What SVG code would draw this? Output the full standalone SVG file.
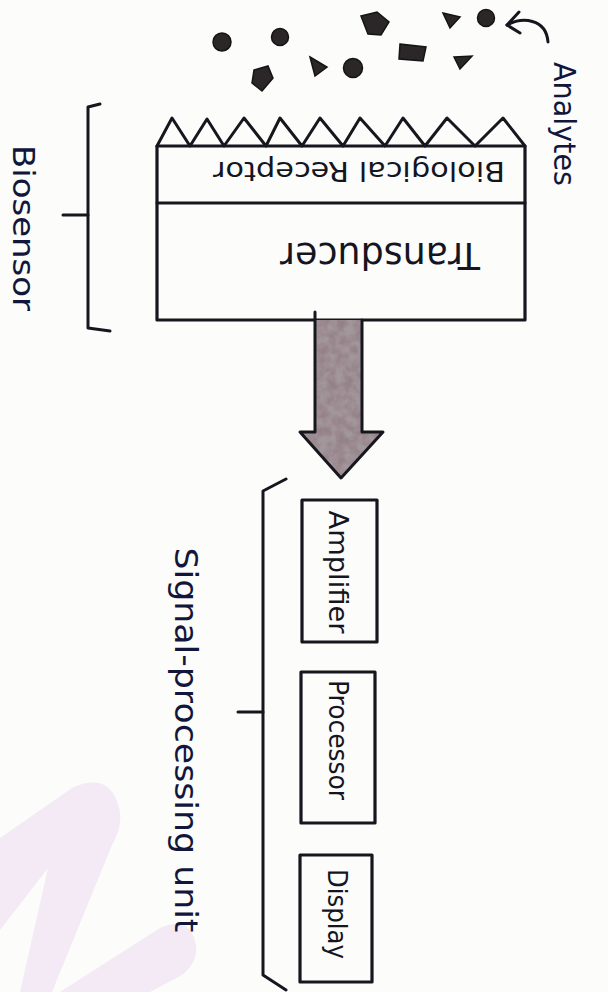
<svg xmlns="http://www.w3.org/2000/svg" width="608" height="992" viewBox="0 0 608 992">
  <defs>
    <style>
      .ink { fill: none; stroke: #16161e; stroke-width: 3; stroke-linecap: round; stroke-linejoin: round; }
      .box { fill: none; stroke: #16161e; stroke-width: 3.2; stroke-linejoin: round; }
      .dot { fill: #2b2627; stroke: #141414; stroke-width: 1.5; }
      .hand { font-family: "DejaVu Sans", "Liberation Sans", sans-serif; fill: #15151f; text-anchor: middle; }
      .blue { fill: #12163a; }
    </style>
    <filter id="grain" x="0" y="0" width="100%" height="100%">
      <feTurbulence type="fractalNoise" baseFrequency="0.11" numOctaves="3" seed="4" result="n"/>
      <feColorMatrix in="n" type="matrix" values="0 0 0 0 0.30  0 0 0 0 0.22  0 0 0 0 0.25  0 0 0 -2.2 1.55" result="tint"/>
      <feComposite in="tint" in2="SourceGraphic" operator="in"/>
    </filter>
    <clipPath id="arrowClip">
      <path d="M315,320 L362,320 L362,432 L383,432 L341,478 L300,432 L315,432 Z"/>
    </clipPath>
  </defs>

  <!-- paper -->
  <rect width="608" height="992" fill="#fcfcfa"/>

  <!-- faint lavender marker strokes, lower left -->
  <g fill="#f3eaf5">
    <path d="M-10,845 L72,788 Q112,770 120,812 Q122,828 112,845 L52,992 L-10,992 Z"/>
    <path d="M0,930 L48,868 L20,992 L0,992 Z" fill="#fcfcfa"/>
    <path d="M60,992 L160,928 Q190,915 196,945 Q198,962 182,975 L150,992 Z"/>
  </g>

  <!-- analytes -->
  <g id="analytes">
    <circle class="dot" cx="222" cy="42" r="9"/>
    <circle class="dot" cx="280" cy="37" r="8.5"/>
    <path class="dot" d="M254,70 L268,66 L273,78 L262,91 L252,83 Z"/>
    <path class="dot" d="M310,57 L327,67 L315,76 Z"/>
    <circle class="dot" cx="353" cy="68" r="9.5"/>
    <path class="dot" d="M361,16 L377,12 L389,22 L381,35 L368,34 Z"/>
    <path class="dot" d="M400,44 L426,47 L423,61 L399,59 Z"/>
    <path class="dot" d="M443,13 L460,17 L450,28 Z"/>
    <path class="dot" d="M454,57 L472,56 L460,69 Z"/>
    <circle class="dot" cx="486" cy="18" r="8.5"/>
    <!-- pointer to the label -->
    <path class="ink" d="M507,25 C522,17 546,18 548,42" stroke-width="2.6"/>
    <path class="ink" d="M519,12 L507,25 L520,33" stroke-width="2.6"/>
    <text class="hand blue" font-size="30" textLength="124" lengthAdjust="spacingAndGlyphs" transform="translate(564,124) rotate(90)" dy="0.35em">Analytes</text>
  </g>

  <!-- biosensor: receptor layer on transducer -->
  <g id="biosensor">
    <path class="ink" d="M157,146 L172,118 L190,146 L207,119 L224,146 L244,118 L266,146 L280,118 L302,146 L320,118 L343,146 L360,118 L385,146 L403,118 L425,146 L447,118 L475,146 L503,118 L525,146"/>
    <rect class="box" x="157" y="146" width="368" height="174"/>
    <line class="ink" x1="157" y1="203" x2="525" y2="203"/>
    <text class="hand" font-size="26" textLength="292" lengthAdjust="spacingAndGlyphs" transform="translate(359,171) rotate(180)" dy="0.35em">Biological Receptor</text>
    <text class="hand" font-size="38" textLength="200" lengthAdjust="spacingAndGlyphs" transform="translate(380,256) rotate(180)" dy="0.35em">Transducer</text>
  </g>

  <!-- bracket and label for the biosensor -->
  <g id="biosensor-bracket">
    <path class="ink" d="M100,104 L88,107 L88,328 L110,331"/>
    <line class="ink" x1="63" y1="215" x2="88" y2="215"/>
    <text class="hand blue" font-size="30" textLength="166" lengthAdjust="spacingAndGlyphs" transform="translate(23,228) rotate(90)" dy="0.35em">Biosensor</text>
  </g>

  <!-- signal flow arrow -->
  <g id="connectors">
    <rect x="295" y="315" width="95" height="170" fill="#a2979a" clip-path="url(#arrowClip)"/>
    <rect x="295" y="315" width="95" height="170" fill="#000" filter="url(#grain)" clip-path="url(#arrowClip)"/>
    <path class="ink" d="M315,312 L315,432 L300,432 L341,478 L383,432 L362,432 L362,320"/>
  </g>

  <!-- signal-processing unit -->
  <g id="signal-bracket">
    <path class="ink" d="M286,479 L263,491 L263,975 L286,990"/>
    <line class="ink" x1="238" y1="712" x2="263" y2="712"/>
    <text class="hand blue" font-size="32" textLength="385" lengthAdjust="spacingAndGlyphs" transform="translate(186,740) rotate(90)" dy="0.35em">Signal-processing unit</text>
  </g>

  <g id="amplifier">
    <rect class="box" x="302" y="500" width="75" height="142"/>
    <text class="hand" font-size="26" textLength="123" lengthAdjust="spacingAndGlyphs" transform="translate(338,572) rotate(90)" dy="0.35em">Amplifier</text>
  </g>

  <g id="processor">
    <rect class="box" x="301" y="672" width="74" height="151"/>
    <text class="hand" font-size="26" textLength="120" lengthAdjust="spacingAndGlyphs" transform="translate(338,740) rotate(90)" dy="0.35em">Processor</text>
  </g>

  <g id="display">
    <rect class="box" x="300" y="855" width="72" height="127"/>
    <text class="hand" font-size="26" textLength="90" lengthAdjust="spacingAndGlyphs" transform="translate(337,914) rotate(90)" dy="0.35em">Display</text>
  </g>
</svg>
